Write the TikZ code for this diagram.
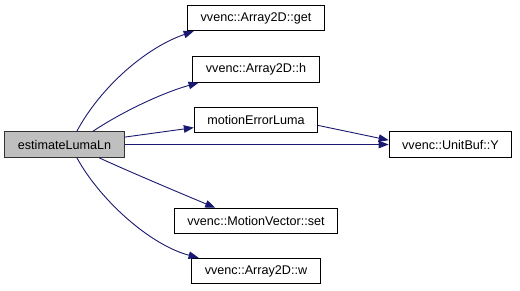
\documentclass[tikz,border=0pt]{standalone}
\usepackage{fontspec}
\setmainfont{Liberation Sans}
\usetikzlibrary{arrows.meta}

\definecolor{edgeblue}{RGB}{25,25,112}
\definecolor{mainfill}{RGB}{191,191,191}

\begin{document}
\begin{tikzpicture}[
    x=1pt,y=-1pt,
    fn/.style={draw=black, line width=1pt, rectangle, minimum height=25.5pt, inner xsep=13pt, fill=white, font=\fontsize{12.6}{15}\selectfont},
    mainfn/.style={fn, fill=mainfill, draw=black!80},
    call/.style={draw=edgeblue, line width=0.9pt, -{Triangle[length=10pt,width=7.5pt]}}
]
    \useasboundingbox (0,0) rectangle (520,291);

    % --- Caller ---
    \node[mainfn] (main) at (64.5, 144.5) {estimateLumaLn};

    % --- Callees ---
    \node[fn] (get) at (256, 18) {vvenc::Array2D::get};
    \node[fn] (h) at (256, 69.5) {vvenc::Array2D::h};
    \node[fn] (mel) at (256, 120) {motionErrorLuma};
    \node[fn] (Y) at (450.5, 144.5) {vvenc::UnitBuf::Y};
    \node[fn] (set) at (256, 221) {vvenc::MotionVector::set};
    \node[fn] (w) at (256, 271) {vvenc::Array2D::w};

    % --- Calls ---
    \draw[call] (main.47) .. controls (100, 88) and (145, 48) .. (get.192);
    \draw[call] (main.25) .. controls (125, 110) and (165, 92) .. (h.193);
    \draw[call] (main.7) -- (mel.187);
    \draw[call] (main) -- (Y);
    \draw[call] (mel.-5) -- (Y.176);
    \draw[call] (main.-21) .. controls (130, 172) and (180, 193) .. (set.162);
    \draw[call] (main.-47) .. controls (100, 200) and (150, 245) .. (w.167);

\end{tikzpicture}
\end{document}
